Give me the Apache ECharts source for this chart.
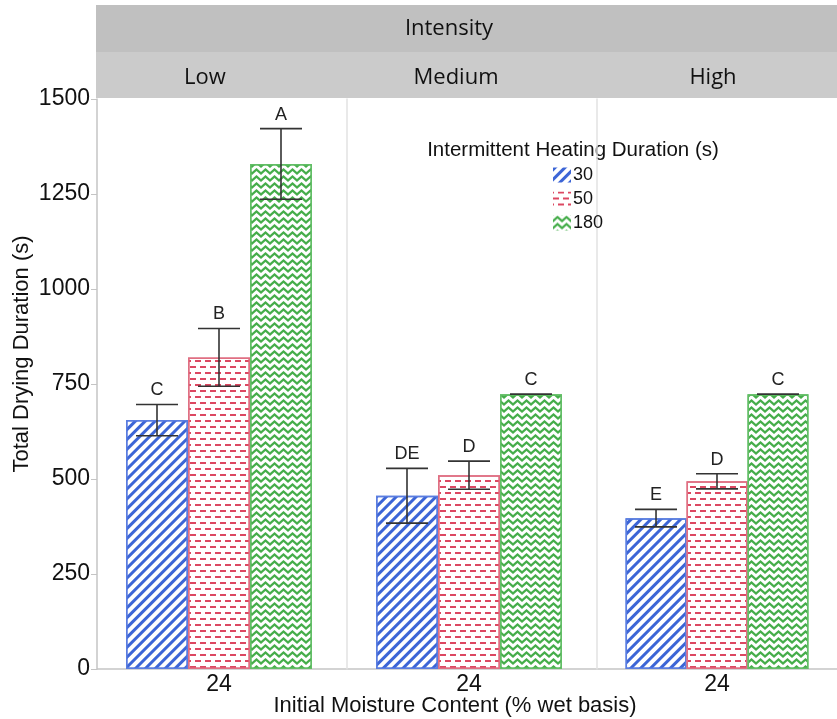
<!DOCTYPE html>
<html>
<head>
<meta charset="utf-8">
<script src="https://cdn.jsdelivr.net/npm/echarts@6/dist/echarts.min.js"></script>
<style>
html,body{margin:0;padding:0;background:#fff;}
#chart{width:837px;height:719px;}
</style>
</head>
<body>
<div id="chart"></div>
<script>
// ---- data ----
const categories = ['24'];
const panels = ['Low', 'Medium', 'High'];
const durations = ['30', '50', '180'];
const mean30 = [655, 456, 397];
const mean50 = [820, 510, 494];
const mean180 = [1329, 723, 723];
const err30 = [41, 72, 23];
const err50 = [76, 37, 20];
const err180 = [93, 0, 0];
const letters30 = ['C', 'DE', 'E'];
const letters50 = ['B', 'D', 'D'];
const letters180 = ['A', 'C', 'C'];
const yTicks = [0, 250, 500, 750, 1000, 1250, 1500];

const means = [mean30, mean50, mean180];
const errs = [err30, err50, err180];
const letters = [letters30, letters50, letters180];

const FONT = '"Liberation Sans", Arial, sans-serif';
const STRIP_FONT = '"Open Sans", sans-serif';
const GRID_W = 244;
const CAT_GAP = (GRID_W - 186) / GRID_W;

const styles = [
  { border: '#5a7de0', decal: { symbol: 'rect', color: '#3c65d6', dashArrayX: [1, 0], dashArrayY: [3, 3.2], rotation: -Math.PI / 4 } },
  { border: '#e06f82', decal: { symbol: 'rect', color: '#dc4862', dashArrayX: [[6, 4], [1, 4, 5, 0]], dashArrayY: [2, 3.6], rotation: 0 } },
  { border: '#62be66', decal: { symbol: 'path://M0,4.2L4.5,0.8L9,4.2L9,6.9L4.5,3.5L0,6.9Z', symbolKeepAspect: false, color: '#45ad4a', dashArrayX: [9, 0], dashArrayY: [6.2, 0], rotation: 0 } }
];

const gridLefts = [97, 347, 597];
const grids = [], xAxes = [], yAxes = [], series = [];
panels.forEach((p, pi) => {
  grids.push({ left: gridLefts[pi], width: GRID_W, top: 99, height: 570, containLabel: false });
  xAxes.push({
    type: 'category', gridIndex: pi, data: categories,
    axisLine: { show: false },
    axisTick: { show: false },
    axisLabel: { fontSize: 23, color: '#111', fontFamily: FONT, margin: 4 }
  });
  yAxes.push({
    type: 'value', gridIndex: pi, min: 0, max: 1500, interval: 250,
    axisLine: { show: true, lineStyle: { color: pi === 0 ? '#c4c4c4' : '#e2e2e2', width: 1.5 } },
    axisTick: { show: pi === 0, length: 6, lineStyle: { color: '#c4c4c4' } },
    axisLabel: { show: pi === 0, fontSize: 23, color: '#111', fontFamily: FONT, margin: 7, formatter: v => String(v) },
    splitLine: { show: false }
  });
  durations.forEach((d, k) => {
    series.push({
      type: 'bar', name: d, xAxisIndex: pi, yAxisIndex: pi,
      data: [means[k][pi]],
      barGap: '0%', barCategoryGap: (CAT_GAP * 100) + '%',
      itemStyle: { color: '#ffffff', borderColor: styles[k].border, borderWidth: 1.5, decal: styles[k].decal },
      emphasis: { disabled: true },
      animation: false
    });
  });
  series.push({
    type: 'custom', xAxisIndex: pi, yAxisIndex: pi, z: 10, animation: false,
    data: durations.map((d, k) => [0, means[k][pi], errs[k][pi], k]),
    encode: { x: 0, y: 1 },
    renderItem: function (params, api) {
      const mean = api.value(1), err = api.value(2), k = api.value(3);
      const band = api.size([1, 0])[0];
      const barW = band * (1 - CAT_GAP) / 3;
      const c = api.coord([0, mean]);
      const x = c[0] + (k - 1) * barW;
      const yHi = api.coord([0, mean + err])[1];
      const yLo = api.coord([0, mean - err])[1];
      const hw = 21;
      const ls = { stroke: '#333', lineWidth: 1.6 };
      return {
        type: 'group',
        children: [
          { type: 'line', shape: { x1: x, y1: yHi, x2: x, y2: yLo }, style: ls },
          { type: 'line', shape: { x1: x - hw, y1: yHi, x2: x + hw, y2: yHi }, style: ls },
          { type: 'line', shape: { x1: x - hw, y1: yLo, x2: x + hw, y2: yLo }, style: ls },
          { type: 'text', style: { x: x, y: yHi - 5, text: letters[k][pi], textAlign: 'center', textVerticalAlign: 'bottom', fontSize: 18, fill: '#222', fontFamily: FONT } }
        ]
      };
    }
  });
});

const chart = echarts.init(document.getElementById('chart'), null, { renderer: 'canvas' });
chart.setOption({
  animation: false,
  backgroundColor: '#ffffff',
  grid: grids, xAxis: xAxes, yAxis: yAxes, series: series,
  legend: {
    data: durations, orient: 'vertical', left: 548, top: 161,
    icon: 'rect', itemWidth: 18, itemHeight: 15, itemGap: 6,
    itemStyle: { borderWidth: 0 },
    textStyle: { fontSize: 18, color: '#111', fontFamily: FONT, lineHeight: 15, padding: [0, 0, 0, -3] },
    selectedMode: false
  },
  graphic: [
    { type: 'rect', shape: { x: 96, y: 5, width: 741, height: 47 }, style: { fill: '#c0c0c0' }, silent: true },
    { type: 'rect', shape: { x: 96, y: 52, width: 741, height: 46 }, style: { fill: '#cbcbcb' }, silent: true },
    { type: 'line', shape: { x1: 97, y1: 669, x2: 837, y2: 669 }, style: { stroke: '#c4c4c4', lineWidth: 1.5 }, silent: true },
    { type: 'text', x: 449, y: 29, style: { text: 'Intensity', textAlign: 'center', textVerticalAlign: 'middle', fontSize: 22, fill: '#111', fontFamily: STRIP_FONT } },
    { type: 'text', x: 205, y: 78, style: { text: panels[0], textAlign: 'center', textVerticalAlign: 'middle', fontSize: 22, fill: '#111', fontFamily: STRIP_FONT } },
    { type: 'text', x: 456, y: 78, style: { text: panels[1], textAlign: 'center', textVerticalAlign: 'middle', fontSize: 22, fill: '#111', fontFamily: STRIP_FONT } },
    { type: 'text', x: 713, y: 78, style: { text: panels[2], textAlign: 'center', textVerticalAlign: 'middle', fontSize: 22, fill: '#111', fontFamily: STRIP_FONT } },
    { type: 'text', x: 573, y: 150, style: { text: 'Intermittent Heating Duration (s)', textAlign: 'center', textVerticalAlign: 'middle', fontSize: 20.5, fill: '#111', fontFamily: FONT } },
    { type: 'text', x: 455, y: 706, style: { text: 'Initial Moisture Content (% wet basis)', textAlign: 'center', textVerticalAlign: 'middle', fontSize: 22, fill: '#111', fontFamily: FONT } },
    { type: 'text', x: 22, y: 354, rotation: Math.PI / 2, style: { text: 'Total Drying Duration (s)', textAlign: 'center', textVerticalAlign: 'middle', fontSize: 22, fill: '#111', fontFamily: FONT } }
  ]
});
</script>
</body>
</html>
